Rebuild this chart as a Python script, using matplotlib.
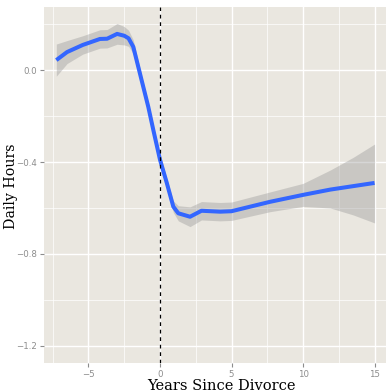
import numpy as np
import matplotlib
matplotlib.use("Agg")
import matplotlib.pyplot as plt
from matplotlib.ticker import MultipleLocator

# smoothed daily hours around the divorce year
years = [-7.25, -6.5, -5.4, -4.2, -3.7, -3.0, -2.5, -2.2, -1.87, -1.52, -1.17, -0.82, -0.47,
         0.0, 0.47, 0.93, 1.28, 2.1, 2.9, 4.2, 5.0, 7.7, 10.0, 11.9, 13.5, 15.0]
fit = [0.043, 0.078, 0.109, 0.135, 0.136, 0.157, 0.149, 0.138, 0.101, 0.014, -0.073, -0.16,
       -0.26, -0.39, -0.49, -0.594, -0.623, -0.638, -0.612, -0.616, -0.614, -0.573, -0.543,
       -0.52, -0.505, -0.491]
upper = [0.113, 0.128, 0.149, 0.175, 0.176, 0.202, 0.189, 0.173, 0.131, 0.039, -0.053, -0.14,
         -0.24, -0.37, -0.47, -0.569, -0.59, -0.595, -0.572, -0.576, -0.574, -0.53, -0.493,
         -0.435, -0.38, -0.322]
lower = [-0.027, 0.028, 0.069, 0.095, 0.096, 0.112, 0.109, 0.103, 0.071, -0.011, -0.093, -0.18,
         -0.28, -0.41, -0.51, -0.619, -0.656, -0.681, -0.652, -0.656, -0.654, -0.616, -0.593,
         -0.60, -0.63, -0.665]

xticks = [-5, 0, 5, 10, 15]
yticks = [0.0, -0.4, -0.8, -1.2]
ytick_labels = ["0.0", "\u22120.4", "\u22120.8", "\u22121.2"]

bg = "#EAE7E0"
tick_col = "#8C8C8C"

fig = plt.figure(figsize=(3.86, 3.92), dpi=100)
ax = fig.add_axes([44 / 386, 29 / 392, 342 / 386, 356 / 392])
ax.set_facecolor(bg)
for s in ax.spines.values():
    s.set_visible(False)

ax.set_xlim(-8.11, 15.8)
ax.set_ylim(-1.274, 0.274)
ax.set_xticks(xticks)
ax.set_yticks(yticks)
ax.set_yticklabels(ytick_labels)
ax.xaxis.set_minor_locator(MultipleLocator(2.5))
ax.yaxis.set_minor_locator(MultipleLocator(0.2))
ax.grid(which="major", color="white", lw=1.0)
ax.grid(which="minor", color="white", lw=0.5)
ax.set_axisbelow(True)
ax.tick_params(which="major", length=3, width=0.8, color=tick_col,
               labelcolor=tick_col, labelsize=6.2, pad=2)
ax.tick_params(which="minor", length=0)

ax.fill_between(years, lower, upper, color="#999999", alpha=0.4, lw=0, zorder=2)
ax.plot(years, fit, color="#3366FF", lw=2.9, solid_capstyle="butt",
        solid_joinstyle="round", zorder=3)
ax.axvline(0, color="black", ls=(0, (3, 3)), lw=0.9, zorder=4)

# axis titles placed by hand, close to the figure edges
fig.text(221 / 386, 2 / 392, "Years Since Divorce", family="DejaVu Serif",
         fontsize=10.5, ha="center", va="baseline")
fig.text(11 / 386, 1 - 186 / 392, "Daily Hours", family="DejaVu Serif",
         fontsize=10.2, ha="center", va="center", rotation=90)

fig.savefig("out.png", dpi=100, facecolor="white")
